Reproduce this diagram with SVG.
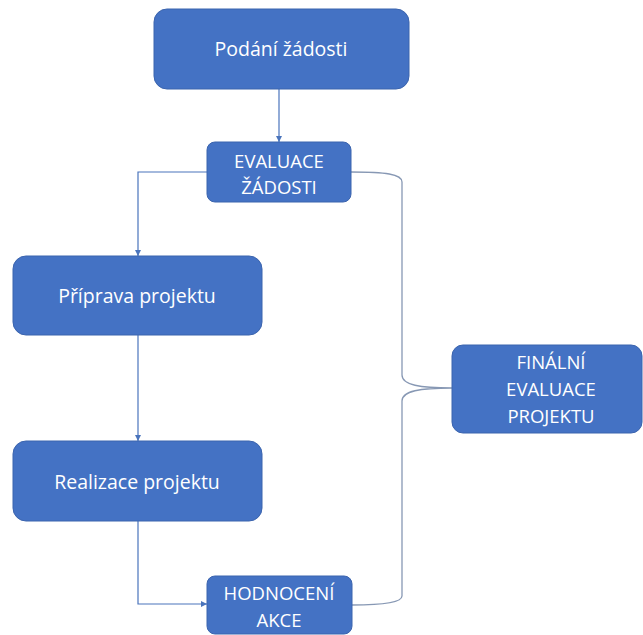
<svg xmlns="http://www.w3.org/2000/svg" width="643" height="635" viewBox="0 0 643 635">
<style>
.box{fill:#4472C4;stroke:#3B64AE;stroke-width:1}
.t{fill:#fff;font-family:"Open Sans","Noto Sans",sans-serif;font-size:18.5px;text-anchor:middle}
.l{font-size:19.5px}
.c{fill:none;stroke:#4A74BC;stroke-width:1.2}
.b{fill:none;stroke:#8798B4;stroke-width:1.3}
</style>
<defs>
<marker id="ah" viewBox="0 0 10 10" refX="10" refY="5" markerWidth="6" markerHeight="6" orient="auto" markerUnits="userSpaceOnUse">
<path d="M0,0 L10,5 L0,10 z" fill="#4A74BC"/>
</marker>
</defs>
<rect width="643" height="635" fill="#fff"/>
<g id="connectors">
<path class="c" d="M279,89 V142" marker-end="url(#ah)"/>
<path class="c" d="M207,172 H138 V256" marker-end="url(#ah)"/>
<path class="c" d="M138,335 V441" marker-end="url(#ah)"/>
<path class="c" d="M138,521 V604 H207" marker-end="url(#ah)"/>
<path class="b" d="M351,172 C385,172 402,174 402,182 V375 C402,385 420,388 452,388 C420,388 402,391 402,401 V596 C402,602 385,605 352,605"/>
</g>
<g id="podani">
<rect class="box" x="154" y="9" width="255" height="80" rx="13"/>
<text class="t l" x="281" y="56">Podání žádosti</text>
</g>
<g id="evaluace">
<rect class="box" x="207" y="142" width="144" height="60" rx="8"/>
<text class="t" x="279" y="168">EVALUACE</text>
<text class="t" x="279" y="194">ŽÁDOSTI</text>
</g>
<g id="priprava">
<rect class="box" x="13" y="256" width="249" height="79" rx="13"/>
<text class="t l" x="137" y="303">Příprava projektu</text>
</g>
<g id="realizace">
<rect class="box" x="13" y="441" width="249" height="80" rx="13"/>
<text class="t l" x="137" y="489">Realizace projektu</text>
</g>
<g id="hodnoceni">
<rect class="box" x="207" y="576" width="145" height="58" rx="8"/>
<text class="t" x="279" y="600">HODNOCENÍ</text>
<text class="t" x="279" y="627">AKCE</text>
</g>
<g id="finalni">
<rect class="box" x="452" y="345" width="190" height="88" rx="11"/>
<text class="t" x="551" y="369">FINÁLNÍ</text>
<text class="t" x="551" y="396">EVALUACE</text>
<text class="t" x="551" y="423">PROJEKTU</text>
</g>
</svg>
